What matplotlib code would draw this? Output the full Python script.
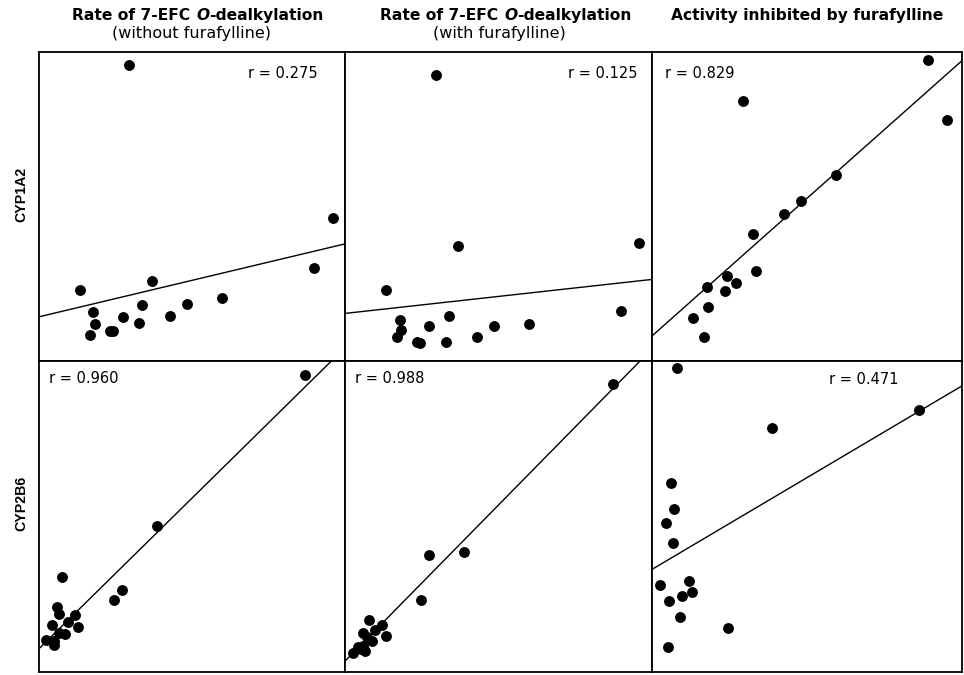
import matplotlib
matplotlib.use("Agg")
import matplotlib.pyplot as plt
import numpy as np

plt.rcParams["font.family"] = ["DejaVu Sans"]

# ---- data (relative units, 0-100 on each panel) ----
col_titles = [
    ("Rate of 7-EFC ", "O", "-dealkylation", "(without furafylline)"),
    ("Rate of 7-EFC ", "O", "-dealkylation", "(with furafylline)"),
    ("Activity inhibited by furafylline", "", "", ""),
]
row_labels = ["CYP1A2", "CYP2B6"]
r_values = [[0.275, 0.125, 0.829], [0.960, 0.988, 0.471]]

# CYP1A2, without furafylline
a2_wo_x = [29.5, 96.0, 89.9, 13.4, 36.8, 59.9, 48.5, 33.8, 17.7, 27.5, 42.9, 18.3, 32.8, 23.2, 24.3, 16.8]
a2_wo_y = [95.8, 46.4, 30.0, 23.1, 26.0, 20.3, 18.3, 18.0, 15.8, 14.3, 14.6, 12.0, 12.2, 9.6, 9.8, 8.4]
# CYP1A2, with furafylline
a2_w_x = [29.5, 36.8, 95.9, 13.5, 89.9, 33.8, 17.8, 27.5, 48.4, 60.0, 18.2, 16.8, 42.9, 23.6, 24.4, 32.9]
a2_w_y = [92.6, 37.3, 38.1, 23.1, 16.3, 14.7, 13.3, 11.3, 11.2, 11.9, 10.0, 7.9, 7.7, 6.2, 5.8, 6.1]
# CYP1A2, activity inhibited
a2_inh_x = [89.0, 29.4, 95.1, 59.4, 48.0, 42.6, 32.7, 33.5, 24.1, 27.2, 17.7, 23.5, 18.2, 13.2, 16.7]
a2_inh_y = [97.4, 84.1, 78.1, 60.3, 51.8, 47.5, 41.0, 29.0, 27.5, 25.3, 23.9, 22.7, 17.6, 14.0, 7.7]
# CYP2B6, without furafylline
b6_wo_x = [87.0, 38.6, 7.6, 27.2, 24.6, 5.8, 6.6, 11.7, 9.6, 4.2, 12.8, 6.4, 8.6, 2.2, 4.9, 4.8]
b6_wo_y = [95.5, 46.8, 30.5, 26.3, 23.3, 20.9, 18.7, 18.3, 16.1, 15.0, 14.6, 12.6, 12.3, 10.2, 10.0, 8.7]
# CYP2B6, with furafylline
b6_w_x = [87.2, 38.9, 27.5, 24.9, 7.8, 12.0, 9.8, 5.8, 13.3, 7.1, 8.9, 4.3, 5.1, 6.5, 2.7, 5.9]
b6_w_y = [92.5, 38.5, 37.6, 23.2, 16.8, 15.1, 13.5, 12.6, 11.6, 11.4, 10.1, 8.0, 7.4, 6.7, 6.2, 8.4]
# CYP2B6, activity inhibited
b6_inh_x = [8.0, 38.6, 86.2, 6.0, 7.0, 4.4, 6.8, 11.8, 2.7, 13.0, 9.8, 5.4, 8.9, 24.6, 5.2]
b6_inh_y = [97.8, 78.6, 84.1, 60.9, 52.3, 48.0, 41.4, 29.3, 28.0, 25.7, 24.3, 22.8, 17.8, 14.2, 7.9]

# regression lines: (intercept, slope)
fits = [[(14.3, 0.236), (15.4, 0.110), (8.1, 0.891)],
        [(7.5, 0.968), (3.5, 1.004), (33.0, 0.590)]]

series = [[(a2_wo_x, a2_wo_y), (a2_w_x, a2_w_y), (a2_inh_x, a2_inh_y)],
          [(b6_wo_x, b6_wo_y), (b6_w_x, b6_w_y), (b6_inh_x, b6_inh_y)]]

# ---- layout (pixels) ----
W, H = 964, 675
col_edges = [(39, 345), (345, 652), (652, 962)]
row_edges = [(52, 361), (361, 672)]
r_pos = [[(0.912, 0.932, "right"), (0.954, 0.929, "right"), (0.042, 0.929, "left")],
         [(0.033, 0.945, "left"), (0.033, 0.945, "left"), (0.571, 0.939, "left")]]
title_cx = [198, 506, 807]
sub_cx = [192, 499]

fig = plt.figure(figsize=(W / 100, H / 100), dpi=100)

for i, (ytop, ybot) in enumerate(row_edges):
    for j, (xl, xr) in enumerate(col_edges):
        ax = fig.add_axes([xl / W, 1 - ybot / H, (xr - xl) / W, (ybot - ytop) / H])
        x, y = series[i][j]
        ax.plot(x, y, "o", color="black", ms=6.8, mec="black", zorder=3)
        b, m = fits[i][j]
        xs = np.array([-5.0, 105.0])
        ax.plot(xs, b + m * xs, "-", color="black", lw=1.0)
        ax.set_xlim(0, 100)
        ax.set_ylim(0, 100)
        ax.set_xticks([])
        ax.set_yticks([])
        for s in ax.spines.values():
            s.set_linewidth(1.3)
            s.set_color("black")
        px, py, ha = r_pos[i][j]
        ax.text(px, py, f"r = {r_values[i][j]:.3f}", transform=ax.transAxes,
                ha=ha, va="center", fontsize=10.5)

# column titles: bold line with an italic "O", centred over each column
renderer = fig.canvas.get_renderer()
for j, (pre, ital, post, sub) in enumerate(col_titles):
    y1 = 1 - 15.5 / H
    pieces = [(pre, "normal"), (ital, "italic"), (post, "normal")]
    texts = []
    for s, st in pieces:
        if not s:
            continue
        t = fig.text(0, y1, s, fontsize=11.2, fontweight="bold", style=st,
                     ha="left", va="center")
        texts.append(t)
    widths = [t.get_window_extent(renderer).width for t in texts]
    x0 = title_cx[j] - sum(widths) / 2
    for t, w in zip(texts, widths):
        t.set_x(x0 / W)
        x0 += w
    if sub:
        fig.text(sub_cx[j] / W, 1 - 33.5 / H, sub, fontsize=11.5, ha="center", va="center")

# row labels
for i, lab in enumerate(row_labels):
    yc = [194, 503][i]
    fig.text(21 / W, 1 - yc / H, lab, rotation=90, fontsize=10.2, fontweight="bold",
             family="Liberation Sans", ha="center", va="center")

fig.savefig("out.png", dpi=100)
